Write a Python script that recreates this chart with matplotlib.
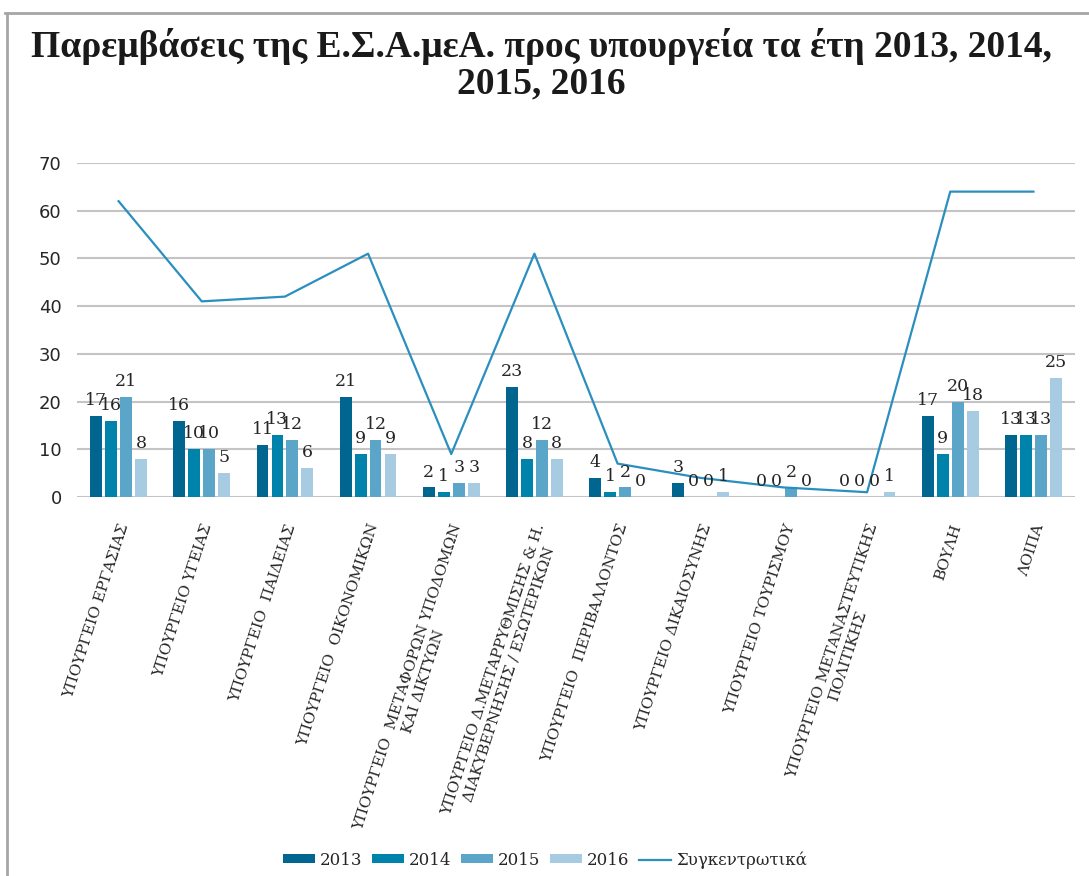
import matplotlib
matplotlib.use("Agg")
import matplotlib.pyplot as plt
import numpy as np
from matplotlib.lines import Line2D

categories = [
    "ΥΠΟΥΡΓΕΙΟ ΕΡΓΑΣΙΑΣ",
    "ΥΠΟΥΡΓΕΙΟ ΥΓΕΙΑΣ",
    "ΥΠΟΥΡΓΕΙΟ  ΠΑΙΔΕΙΑΣ",
    "ΥΠΟΥΡΓΕΙΟ  ΟΙΚΟΝΟΜΙΚΩΝ",
    "ΥΠΟΥΡΓΕΙΟ  ΜΕΤΑΦΟΡΩΝ ΥΠΟΔΟΜΩΝ\nΚΑΙ ΔΙΚΤΥΩΝ",
    "ΥΠΟΥΡΓΕΙΟ Δ.ΜΕΤΑΡΡΥΘΜΙΣΗΣ & Η.\nΔΙΑΚΥΒΕΡΝΗΣΗΣ / ΕΣΩΤΕΡΙΚΩΝ",
    "ΥΠΟΥΡΓΕΙΟ  ΠΕΡΙΒΑΛΛΟΝΤΟΣ",
    "ΥΠΟΥΡΓΕΙΟ ΔΙΚΑΙΟΣΥΝΗΣ",
    "ΥΠΟΥΡΓΕΙΟ ΤΟΥΡΙΣΜΟΥ",
    "ΥΠΟΥΡΓΕΙΟ ΜΕΤΑΝΑΣΤΕΥΤΙΚΗΣ\nΠΟΛΙΤΙΚΗΣ",
    "ΒΟΥΛΗ",
    "ΛΟΙΠΑ",
]
series_names = ["2013", "2014", "2015", "2016"]
v2013 = [17, 16, 11, 21, 2, 23, 4, 3, 0, 0, 17, 13]
v2014 = [16, 10, 13, 9, 1, 8, 1, 0, 0, 0, 9, 13]
v2015 = [21, 10, 12, 12, 3, 12, 2, 0, 2, 0, 20, 13]
v2016 = [8, 5, 6, 9, 3, 8, 0, 1, 0, 1, 18, 25]
total = [62, 41, 42, 51, 9, 51, 7, 4, 2, 1, 64, 64]
line_name = "Συγκεντρωτικά"
title = "Παρεμβάσεις της Ε.Σ.Α.μεΑ. προς υπουργεία τα έτη 2013, 2014,\n2015, 2016"

colors = ["#00668f", "#0083aa", "#5aa5c8", "#a7cbe0"]
line_color = "#2a8fbf"

fig = plt.figure(figsize=(10.89, 8.76), dpi=100)
ax = fig.add_axes([77/1089, 1-497/876, (1075-77)/1089, (497-163)/876])

x = np.arange(len(categories))
bw = 0.142
step = 0.18
all_series = [v2013, v2014, v2015, v2016]
handles = []
for i, (vals, c, nm) in enumerate(zip(all_series, colors, series_names)):
    pos = x + (i - 1.5) * step
    bars = ax.bar(pos, vals, width=bw, color=c, label=nm, zorder=3)
    handles.append(bars)
    for px, v in zip(pos, vals):
        ax.annotate(str(v), (px, v), xytext=(0, 5), textcoords="offset points",
                    ha="center", va="bottom", fontsize=12.5, family="DejaVu Serif",
                    color="#262626", zorder=5)

ln, = ax.plot(x, total, color=line_color, lw=1.6, zorder=4, label=line_name)

ax.set_xlim(-0.5, len(categories) - 0.5)
ax.set_ylim(0, 70)
ax.set_yticks(range(0, 71, 10))
ax.yaxis.grid(True, color="#c4c4c4", lw=1.5, zorder=0)
ax.set_axisbelow(True)
for s in ax.spines.values():
    s.set_visible(False)
ax.tick_params(axis="y", length=0, pad=11, labelsize=13, labelcolor="#262626")
ax.tick_params(axis="x", length=0, pad=18)
ax.set_xticks(x)
ax.set_xticklabels(categories, rotation=72, ha="right", va="top",
                   rotation_mode="anchor", multialignment="center",
                   fontsize=11, family="DejaVu Serif", color="#262626")
for lab in ax.get_yticklabels():
    lab.set_family("DejaVu Sans")

fig.text(0.497, 0.926, title, ha="center", va="center", fontsize=27,
         family="Liberation Serif", weight="bold", color="#1a1a1a", linespacing=1.05)

leg = fig.legend(handles + [ln], series_names + [line_name], loc="center",
                 bbox_to_anchor=(545/1089, 1-860/876), ncol=5, frameon=False,
                 prop={"family": "DejaVu Serif", "size": 12},
                 handlelength=1.9, handleheight=0.45, handletextpad=0.3,
                 columnspacing=0.6, labelcolor="#262626")

# border
fig.add_artist(Line2D([5/1089, 1], [1-13/876, 1-13/876], color="#a6a6a6", lw=2, transform=fig.transFigure))
fig.add_artist(Line2D([7/1089, 7/1089], [0, 1-13/876], color="#a6a6a6", lw=2, transform=fig.transFigure))

fig.savefig("out.png", dpi=100)
